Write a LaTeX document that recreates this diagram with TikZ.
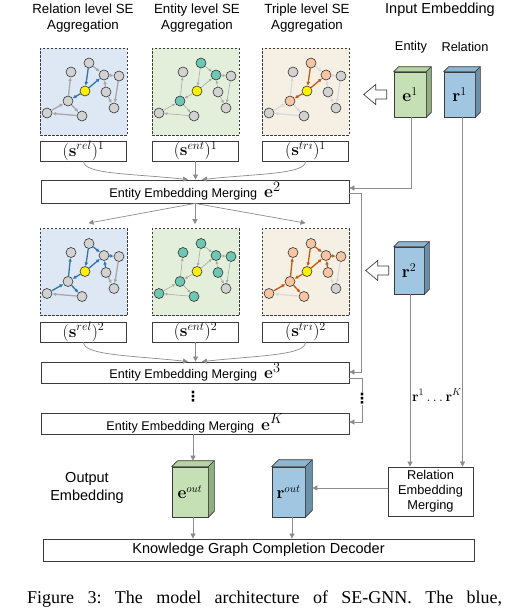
\documentclass[tikz,border=0pt]{standalone}
\usepackage[no-math]{fontspec}
\setmainfont{Liberation Sans}
\newfontfamily\capfont{Liberation Serif}
\newfontfamily\symfont{DejaVu Sans}
\usetikzlibrary{arrows.meta,calc}

\definecolor{conncol}{HTML}{8C8C8C}
\definecolor{boxcol}{HTML}{3C3C3C}
\definecolor{bluebg}{HTML}{DDE8F4}
\definecolor{greenbg}{HTML}{E3EFDA}
\definecolor{tanbg}{HTML}{F6F0E4}
\definecolor{nodegray}{HTML}{D2D2D2}
\definecolor{nodeyel}{HTML}{FFF200}
\definecolor{nodeteal}{HTML}{6DC7B3}
\definecolor{nodesal}{HTML}{F8C5A3}
\definecolor{edgeblue}{HTML}{2E75B6}
\definecolor{edgeorange}{HTML}{C55A11}
\definecolor{edgegray}{HTML}{A8A8A8}
\definecolor{edgelight}{HTML}{D9D9D9}
\definecolor{cubegreen}{HTML}{C5E0B4}
\definecolor{cubegreentop}{HTML}{B5D5A0}
\definecolor{cubegreenside}{HTML}{8FAE7C}
\definecolor{cubeblue}{HTML}{A0C6E2}
\definecolor{cubebluetop}{HTML}{8DB6D3}
\definecolor{cubeblueside}{HTML}{6A8FA9}

\newcommand\mymath[1]{{\fontsize{19}{19}\selectfont#1}}

\newcommand\segraph[8]{%
  \begin{scope}[shift={(#2,#3)}]
    \node[gnode=#4] (#1A) at (49,15) {};
    \node[gnode=#5] (#1B) at (31,24) {};
    \node[gnode=#4] (#1C) at (64,27) {};
    \node[gnode=#5] (#1D) at (79,28) {};
    \node[gnode=nodeyel] (#1Y) at (45,43) {};
    \node[gnode=#5] (#1E) at (66,44) {};
    \node[gnode=#4] (#1F) at (28,53) {};
    \node[gnode=nodegray] (#1G) at (74,60) {};
    \node[gnode=#5] (#1H) at (7,65) {};
    \node[gnode=#5] (#1I) at (42,68) {};
  \end{scope}
  \draw[#6] (#1A) -- (#1Y);
  \draw[#6] (#1Y) -- (#1C);
  \draw[#6] (#1Y) -- (#1F);
  \draw[#7] (#1A) -- (#1C);
  \draw[#7] (#1F) -- (#1B);
  \draw[#7] (#1H) -- (#1F);
  \draw[#7] (#1F) -- (#1I);
  \draw[#7] (#1C) -- (#1D);
  \draw[#7] (#1E) -- (#1C);
  \draw[#8] (#1I) -- (#1H);
  \draw[#8] (#1D) -- (#1G);
  \draw[#8] (#1E) -- (#1G);
}

\newcommand\cubefaces[4]{%
  \filldraw[fill=#3, draw=boxcol, line width=0.6pt, line join=round]
    (#1.north west) -- ++(#2,-#2) -- ([shift={(#2,-#2)}]#1.north east) -- (#1.north east) -- cycle;
  \filldraw[fill=#4, draw=boxcol, line width=0.6pt, line join=round]
    (#1.north east) -- ++(#2,-#2) -- ([shift={(#2,-#2)}]#1.south east) -- (#1.south east) -- cycle;
}

\newcommand\hollowarr[1]{%
  \draw[boxcol, fill=white, line width=0.7pt, line join=miter]
    (#1) -- ++(12,-10) -- ++(0,5.5) -- ++(11,0) -- ++(0,9) -- ++(-11,0) -- ++(0,5.5) -- cycle;
}

\tikzset{
  conn/.style={draw=conncol, line width=0.7pt, -{Triangle[length=5pt,width=5pt]}},
  plainline/.style={draw=conncol, line width=0.7pt},
  panel/.style={draw=boxcol, dash pattern=on 2.5pt off 1.5pt, line width=0.8pt,
    minimum width=87pt, minimum height=87pt, inner sep=0pt},
  lbox/.style={draw=boxcol, line width=0.7pt, minimum width=86pt, minimum height=20pt,
    inner sep=0pt, font=\fontsize{17}{17}\selectfont},
  mbox/.style={draw=boxcol, line width=0.8pt, minimum width=308pt, inner sep=0pt,
    font=\fontsize{12.6}{14}\selectfont},
  gnode/.style={circle, draw=black!80, line width=0.6pt, minimum size=10pt, inner sep=0pt, fill=#1},
  cube/.style={draw=boxcol, line width=0.6pt, inner sep=0pt, font=\fontsize{18}{18}\selectfont},
  title/.style={align=center, font=\fontsize{13.3}{16}\selectfont, inner sep=0pt},
  dotsnode/.style={inner sep=0.5pt, font=\symfont\bfseries\fontsize{14}{14}\selectfont},
  ebl/.style={draw=edgeblue, line width=1.3pt, -{Latex[length=3.8pt,width=3.8pt]}},
  eor/.style={draw=edgeorange, line width=1.3pt, -{Latex[length=3.8pt,width=3.8pt]}},
  egr/.style={draw=edgegray, line width=1.3pt, -{Latex[length=3.8pt,width=3.8pt]}},
  elt/.style={draw=edgelight, line width=1.3pt, -{Latex[length=3.8pt,width=3.8pt]}},
  ethin/.style={draw=edgegray, line width=0.6pt, -{Latex[length=3pt,width=3pt]}},
}

\begin{document}
\begin{tikzpicture}[x=1pt,y=-1pt]
\useasboundingbox[fill=white] (0,0) rectangle (507,611);

% titles
\node[title] (tt1) at (83,18) {Relation level SE\\Aggregation};
\node[title] (tt2) at (197,18) {Entity level SE\\Aggregation};
\node[title] (tt3) at (307,18) {Triple level SE\\Aggregation};
\node[inner sep=0pt, font=\fontsize{14.5}{17}\selectfont] (inemb) at (440,10) {Input Embedding};
\node[inner sep=0pt, font=\fontsize{12.8}{15}\selectfont] (entl) at (411,47) {Entity};
\node[inner sep=0pt, font=\fontsize{12.8}{15}\selectfont] (rell) at (465,47) {Relation};

% panels
\node[panel, fill=bluebg] (b1) at (83.5,91.5) {};
\node[panel, fill=greenbg] (g1) at (195.5,91.5) {};
\node[panel, fill=tanbg] (t1) at (305.5,91.5) {};
\node[panel, fill=bluebg] (b2) at (83.5,272) {};
\node[panel, fill=greenbg] (g2) at (195.5,272) {};
\node[panel, fill=tanbg] (t2) at (305.5,272) {};

\segraph{bA}{40}{48}{nodegray}{nodegray}{ebl}{egr}{egr}
\segraph{gA}{152}{48}{nodeteal}{nodegray}{ethin}{ethin}{ethin}
\segraph{tA}{262}{48}{nodesal}{nodegray}{eor}{elt}{elt}
\segraph{bB}{40}{228.5}{nodegray}{nodegray}{ebl}{ebl}{egr}
\segraph{gB}{152}{228.5}{nodeteal}{nodeteal}{ethin}{ethin}{ethin}
\segraph{tB}{262}{228.5}{nodesal}{nodesal}{eor}{eor}{elt}

% label boxes
\node[lbox] (lr1) at (83.5,151) {$(\mathbf{s}^{rel})^1$};
\node[lbox] (le1) at (195.5,151) {$(\mathbf{s}^{ent})^1$};
\node[lbox] (lt1) at (305.5,151) {$(\mathbf{s}^{tri})^1$};
\node[lbox] (lr2) at (83.5,332) {$(\mathbf{s}^{rel})^2$};
\node[lbox] (le2) at (195.5,332) {$(\mathbf{s}^{ent})^2$};
\node[lbox] (lt2) at (305.5,332) {$(\mathbf{s}^{tri})^2$};

% merging boxes
\node[mbox, minimum height=23pt] (e2) at (195,191.5) {Entity Embedding Merging\hspace{7pt}\mymath{$\mathbf{e}^2$}};
\node[mbox, minimum height=21pt] (e3) at (195,372.5) {Entity Embedding Merging\hspace{7pt}\mymath{$\mathbf{e}^3$}};
\node[mbox, minimum height=21pt] (eK) at (195,423.5) {Entity Embedding Merging\hspace{7pt}\mymath{$\mathbf{e}^K$}};

% curved arrows into merging boxes
\draw[conn] (lr1.south) .. controls +(0,13) and +(-55,-6) .. ([xshift=-7pt]e2.north);
\draw[conn] (le1.south) -- (le1.south |- e2.north);
\draw[conn] (lt1.south) .. controls +(0,13) and +(55,-6) .. ([xshift=7pt]e2.north);
\draw[conn] (lr2.south) .. controls +(0,13) and +(-55,-6) .. ([xshift=-7pt]e3.north);
\draw[conn] (le2.south) -- (le2.south |- e3.north);
\draw[conn] (lt2.south) .. controls +(0,13) and +(55,-6) .. ([xshift=7pt]e3.north);

% e2 to row-2 panels
\coordinate (b2t) at ([xshift=5pt,yshift=5pt]b2.north);
\coordinate (g2t) at ([yshift=4pt]g2.north);
\coordinate (t2t) at ([yshift=5pt]t2.north);
\draw[conn] (e2.south) -- (b2t);
\draw[conn] (e2.south) -- (e2.south |- g2t);
\draw[conn] (e2.south) -- (t2t);

% cubes
\node[cube, fill=cubegreen, minimum width=32pt, minimum height=45pt] (e1) at (410,94.5) {$\mathbf{e}^1$};
\cubefaces{e1}{5}{cubegreentop}{cubegreenside}
\node[cube, fill=cubeblue, minimum width=31pt, minimum height=45pt] (r1) at (459.5,94.5) {$\mathbf{r}^1$};
\cubefaces{r1}{5}{cubebluetop}{cubeblueside}
\node[cube, fill=cubeblue, minimum width=30pt, minimum height=47pt] (r2) at (409,270.5) {$\mathbf{r}^2$};
\cubefaces{r2}{5}{cubebluetop}{cubeblueside}
\node[cube, fill=cubegreen, minimum width=36pt, minimum height=50pt, font=\fontsize{16}{16}\selectfont] (eout) at (190,492) {$\mathbf{e}^{out}$};
\cubefaces{eout}{6}{cubegreentop}{cubegreenside}
\node[cube, fill=cubeblue, minimum width=33pt, minimum height=50pt, font=\fontsize{16}{16}\selectfont] (rout) at (288.5,492) {$\mathbf{r}^{out}$};
\cubefaces{rout}{7}{cubebluetop}{cubeblueside}

% hollow arrows
\coordinate (h1tip) at ([xshift=-30pt]e1.west);
\hollowarr{h1tip}
\coordinate (h2tip) at ([xshift=-28pt]r2.west);
\hollowarr{h2tip}

% e1 into e2
\coordinate (e1b) at ([xshift=1pt]e1.south);
\coordinate (e2in) at ([yshift=3.5pt]e2.east);
\draw[conn] (e1b) |- (e2in);

% residual e2 -> e3
\coordinate (e2R) at ([yshift=-1.5pt]e2.east);
\coordinate (e3in) at ([yshift=0.5pt]e3.east);
\draw[conn] (e2R) -- ++(12,0) |- (e3in);

% e3 -> dots -> eK
\node[dotsnode] (rdots) at (362,399) {⋮};
\coordinate (e3R) at ([yshift=-5.5pt]e3.east);
\draw[plainline] (e3R) -| (rdots.north);
\coordinate (eKin) at ([yshift=1.5pt]eK.east);
\draw[conn] (rdots.south) |- (eKin);
\node[dotsnode] (ldots) at (193,397) {⋮};

% relation embedding merging
\node[draw=boxcol, line width=0.8pt, minimum width=85pt, minimum height=49pt, inner sep=0pt,
  align=center, font=\fontsize{12.8}{15}\selectfont] (rem) at (430.5,491.5) {Relation\\Embedding\\Merging};
\coordinate (r1b) at ([xshift=3pt]r1.south);
\draw[conn] (r1b) -- (r1b |- rem.north);
\coordinate (r2b) at ([xshift=1pt]r2.south);
\draw[conn] (r2b) -- (r2b |- rem.north);
\node[inner sep=0pt, font=\fontsize{14}{14}\selectfont] (rlab) at (437,395) {$\mathbf{r}^1\ldots\mathbf{r}^K$};

\coordinate (routR) at ([xshift=7pt]rout.east);
\coordinate (remW) at ([yshift=3.5pt]rem.west);
\draw[conn] (remW) -- (remW -| routR);

% output
\node[align=center, inner sep=0pt, font=\fontsize{14.5}{18}\selectfont] (outemb) at (87,488) {Output\\Embedding};
\coordinate (eoutT) at ([xshift=3pt,yshift=6pt]eout.north);
\draw[conn] (eK.south -| eoutT) -- (eoutT);

\node[draw=boxcol, line width=0.8pt, minimum width=431pt, minimum height=22pt, inner sep=0pt,
  font=\fontsize{14.5}{16}\selectfont] (dec) at (258.5,550) {Knowledge Graph Completion Decoder};
\coordinate (eoutB) at ([xshift=3pt]eout.south);
\draw[conn] (eoutB) -- (eoutB |- dec.north);
\coordinate (routB) at ([xshift=3.5pt]rout.south);
\draw[conn] (routB) -- (routB |- dec.north);

% caption
\node[anchor=base west, inner sep=0pt] (cap) at (27,603)
  {\makebox[475pt][s]{\capfont\frenchspacing\fontsize{18}{20}\selectfont Figure 3: The model architecture of SE-GNN. The blue,}};
\end{tikzpicture}
\end{document}
